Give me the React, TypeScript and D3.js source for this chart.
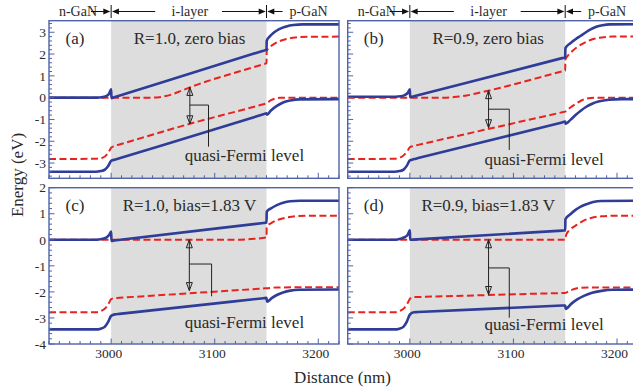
import React from 'react';
import * as d3 from 'd3';

type Pt = [number, number];

// ---------- axes / labels ----------
const xDomain: [number, number] = [2940, 3220];
const yDomainTop: [number, number] = [-3.7, 3.53];
const yDomainBottom: [number, number] = [-4, 2];
const xTickLabels = [3000, 3100, 3200];
const iLayer: [number, number] = [3000, 3150];
const panelLetters = ['(a)', '(b)', '(c)', '(d)'];
const panelTitles = ['R=1.0, zero bias', 'R=0.9, zero bias', 'R=1.0, bias=1.83 V', 'R=0.9, bias=1.83 V'];
const regionNames = ['n-GaN', 'i-layer', 'p-GaN'];
const regionCenters = [2968, 3076, 3190.5];
const annotationText = 'quasi-Fermi level';

// ---------- panel (a) R=1.0 zero bias ----------
const ecA: Pt[] = [[2940,0],[2986,0],[2991,0.02],[2995,0.07],[2998,0.18],[3000,0.38],[3000.3,-0.02],[3003,0.02],[3147,2.155],[3150,2.2],[3150.2,2.6],[3153,2.8],[3156,2.94],[3160,3.08],[3165,3.2],[3170,3.28],[3176,3.33],[3185,3.36],[3220,3.36]];
const efnA: Pt[] = [[2940,0],[3040,0],[3050,0.05],[3060,0.17],[3068,0.32],[3076,0.47],[3147,1.535],[3150,1.58],[3150.2,2.15],[3154,2.35],[3158,2.48],[3163,2.6],[3170,2.7],[3178,2.76],[3190,2.79],[3220,2.8]];
const efpA: Pt[] = [[2940,-2.82],[2986,-2.8],[2992,-2.75],[2996,-2.6],[2998.5,-2.42],[3000,-2.3],[3003,-2.22],[3008,-2.15],[3076,-1.2],[3147,-0.3],[3150,-0.26],[3154,-0.13],[3158,-0.05],[3163,-0.01],[3170,0],[3220,0]];
const evA: Pt[] = [[2940,-3.4],[2985,-3.4],[2990,-3.37],[2994,-3.3],[2997,-3.15],[3000,-2.9],[3004,-2.84],[3008,-2.782],[3147,-0.764],[3150,-0.72],[3150.5,-0.78],[3154,-0.6],[3160,-0.38],[3166,-0.22],[3173,-0.13],[3182,-0.08],[3220,-0.07]];

// ---------- panel (b) R=0.9 zero bias ----------
const ecB: Pt[] = [[2940,0.04],[2986,0.04],[2991,0.06],[2995,0.12],[2998,0.22],[3000,0.38],[3000.3,0.02],[3003,0.053],[3147,1.813],[3150,1.85],[3150.2,2.27],[3155,2.5],[3160,2.68],[3165,2.84],[3170,3.0],[3175,3.14],[3180,3.25],[3186,3.32],[3193,3.36],[3220,3.37]];
const efnB: Pt[] = [[2940,0],[3035,0],[3045,0.04],[3055,0.1],[3065,0.2],[3076,0.32],[3147,1.203],[3150,1.24],[3150.2,1.75],[3153,1.95],[3157,2.14],[3161,2.3],[3167,2.48],[3172,2.6],[3177,2.69],[3185,2.76],[3195,2.8],[3220,2.8]];
const efpB: Pt[] = [[2940,-2.82],[2985,-2.8],[2991,-2.74],[2995,-2.6],[2998,-2.42],[3000,-2.28],[3003,-2.22],[3008,-2.166],[3147,-0.672],[3150,-0.64],[3155,-0.45],[3161,-0.26],[3166,-0.12],[3171,-0.04],[3178,0],[3220,0]];
const evB: Pt[] = [[2940,-3.4],[2985,-3.4],[2990,-3.37],[2994,-3.3],[2997,-3.13],[3000,-2.88],[3004,-2.82],[3008,-2.773],[3147,-1.135],[3150,-1.1],[3150.5,-1.2],[3155,-1.02],[3160,-0.8],[3165,-0.6],[3170,-0.43],[3176,-0.28],[3183,-0.17],[3192,-0.1],[3205,-0.07],[3220,-0.07]];

// ---------- panel (c) R=1.0 bias 1.83 V ----------
const ecC: Pt[] = [[2940,0],[2986,0],[2991,0.03],[2995,0.08],[2998,0.18],[3000,0.32],[3000.3,-0.04],[3003,-0.027],[3147,0.646],[3150,0.66],[3150.2,1.08],[3155,1.22],[3160,1.33],[3166,1.42],[3173,1.48],[3182,1.5],[3220,1.5]];
const efnC: Pt[] = [[2940,0],[3120,0],[3135,0.03],[3150,0.09],[3150.2,0.5],[3155,0.65],[3162,0.78],[3170,0.86],[3180,0.91],[3192,0.92],[3220,0.92]];
const efpC: Pt[] = [[2940,-2.78],[2985,-2.78],[2991,-2.72],[2995,-2.6],[2998,-2.42],[3000,-2.28],[3003,-2.24],[3008,-2.227],[3147,-1.868],[3150,-1.86],[3160,-1.83],[3220,-1.82]];
const evC: Pt[] = [[2940,-3.44],[2985,-3.44],[2990,-3.41],[2994,-3.33],[2997,-3.16],[3000,-2.92],[3004,-2.86],[3008,-2.843],[3147,-2.243],[3150,-2.23],[3150.5,-2.38],[3155,-2.24],[3160,-2.12],[3166,-2.02],[3173,-1.95],[3182,-1.92],[3220,-1.91]];

// ---------- panel (d) R=0.9 bias 1.83 V ----------
const ecD: Pt[] = [[2940,0],[2986,0],[2991,0.04],[2995,0.1],[2998,0.2],[3000,0.36],[3000.3,0],[3003,0.006],[3147,0.353],[3150,0.36],[3150.2,0.79],[3155,0.98],[3160,1.15],[3165,1.27],[3171,1.37],[3177,1.45],[3185,1.49],[3220,1.5]];
const efnD: Pt[] = [[2940,0],[3148,0],[3150,0],[3151,0.2],[3155,0.4],[3161,0.57],[3167,0.72],[3175,0.84],[3185,0.9],[3195,0.92],[3220,0.92]];
const efpD: Pt[] = [[2940,-2.78],[2985,-2.78],[2991,-2.72],[2995,-2.6],[2998,-2.42],[3000,-2.27],[3003,-2.2],[3008,-2.195],[3147,-2.043],[3150,-2.04],[3154,-1.96],[3158,-1.9],[3163,-1.85],[3172,-1.83],[3220,-1.83]];
const evD: Pt[] = [[2940,-3.44],[2985,-3.44],[2990,-3.41],[2994,-3.33],[2997,-3.15],[3000,-2.87],[3004,-2.78],[3008,-2.773],[3147,-2.525],[3150,-2.52],[3150.5,-2.65],[3156,-2.45],[3162,-2.28],[3168,-2.15],[3176,-2.03],[3185,-1.96],[3196,-1.92],[3220,-1.91]];

// annotation: [arrowX, arrowTop, arrowBottom, elbowY, elbowX, stemBottom, textX, textBaseline]
const annA = [3076, 0.47, -1.2, -0.34, 3094, -2.25, 3071, -2.89];
const annB = [3076, 0.32, -1.38, -0.53, 3096, -2.4, 3072, -3.09];
const annC = [3075.5, 0, -1.95, -0.93, 3097, -2.17, 3071, -3.37];
const annD = [3076, 0, -2.1, -1.08, 3096, -2.99, 3072, -3.47];

const BLUE = '#2f3d99';
const RED = '#e8231f';
const FRAME = '#5062aa';
const SHADE = '#dcdddc';
const TEXT = '#2a2a2a';
const FONT = 'Liberation Serif, Times New Roman, Times, DejaVu Serif, serif';

const W = 633;
const H = 391;
const PW = 290;
const colLeft = [49, 347.7];
const rowTop = [20.7, 187.7];
const rowBottom = [178.3, 344];

interface PanelProps {
  idx: number;
  left: number;
  top: number;
  bottom: number;
  yDomain: [number, number];
  ec: Pt[]; efn: Pt[]; efp: Pt[]; ev: Pt[];
  ann: number[];
  showY: boolean;
  showX: boolean;
  header: boolean;
}

function Panel(p: PanelProps) {
  const x = d3.scaleLinear().domain(xDomain).range([p.left, p.left + PW]);
  const y = d3.scaleLinear().domain(p.yDomain).range([p.bottom, p.top]);
  const line = d3.line<Pt>().x(d => x(d[0])).y(d => y(d[1])).curve(d3.curveMonotoneX);
  const clipId = `clip-${p.idx}`;
  const xMinor = d3.range(xDomain[0], xDomain[1] + 0.1, 10);
  const yMinor = d3.range(Math.ceil(p.yDomain[0] / 0.2 - 1e-9), Math.floor(p.yDomain[1] / 0.2 + 1e-9) + 1).map(k => k * 0.2);
  const isMajor = (v: number, step: number) => Math.abs(v / step - Math.round(v / step)) < 1e-6;
  const yLabels = d3.range(Math.ceil(p.yDomain[0]), Math.floor(p.yDomain[1]) + 1);
  const [ax, at, ab, ey, ex, sb, tx, ty] = p.ann;
  const axp = x(ax);
  const topY = y(at), botY = y(ab);
  const ah = 8, aw = 3;
  const hy = 11.5;
  const textStyle = { fontFamily: FONT };

  const arrowHead = (xt: number, dir: number) => {
    const xb = xt - dir * 7;
    return `M${xt},${hy}L${xb},${hy - 3}L${xb},${hy + 3}Z`;
  };

  return (
    <g>
      <defs>
        <clipPath id={clipId}>
          <rect x={p.left} y={p.top} width={PW} height={p.bottom - p.top} />
        </clipPath>
      </defs>
      <rect x={x(iLayer[0])} y={p.top} width={x(iLayer[1]) - x(iLayer[0])} height={p.bottom - p.top} fill={SHADE} />
      <g clipPath={`url(#${clipId})`} fill="none">
        <path d={line(p.efn) || ''} stroke={RED} strokeWidth={2} strokeDasharray="7,3.5" />
        <path d={line(p.efp) || ''} stroke={RED} strokeWidth={2} strokeDasharray="7,3.5" />
        <path d={line(p.ec) || ''} stroke={BLUE} strokeWidth={2.6} strokeLinejoin="round" />
        <path d={line(p.ev) || ''} stroke={BLUE} strokeWidth={2.6} strokeLinejoin="round" />
      </g>
      <g stroke="#222" strokeWidth={1} fill="none">
        <line x1={axp} x2={axp} y1={topY} y2={botY} />
        <path d={`M${axp - aw},${topY + ah}L${axp},${topY}L${axp + aw},${topY + ah}Z`} />
        <path d={`M${axp - aw},${botY - ah}L${axp},${botY}L${axp + aw},${botY - ah}Z`} />
        <polyline points={`${axp},${y(ey)} ${x(ex)},${y(ey)} ${x(ex)},${y(sb)}`} />
      </g>
      <text x={x(tx)} y={y(ty)} fontSize={17} style={textStyle} fill={TEXT}>{annotationText}</text>
      <text x={p.left + 26} y={p.top + 23.5} fontSize={17} style={textStyle} fill={TEXT} textAnchor="middle">{panelLetters[p.idx]}</text>
      <text x={p.left + 140.5} y={p.top + 23.5} fontSize={17} style={textStyle} fill={TEXT} textAnchor="middle">{panelTitles[p.idx]}</text>
      <rect x={p.left} y={p.top} width={PW} height={p.bottom - p.top} fill="none" stroke={FRAME} strokeWidth={1.4} />
      <g stroke={FRAME} strokeWidth={1}>
        {xMinor.map(v => {
          const len = isMajor(v, 100) ? 5.5 : 3;
          return <line key={`x${v}`} x1={x(v)} x2={x(v)} y1={p.bottom} y2={p.bottom - len} />;
        })}
        {yMinor.map(v => {
          const len = isMajor(v, 1) ? 5.5 : 3;
          return <line key={`y${v}`} x1={p.left} x2={p.left + len} y1={y(v)} y2={y(v)} />;
        })}
      </g>
      {p.showY && yLabels.map(v => (
        <text key={`yl${v}`} x={p.left - 3} y={y(v)} dy="0.35em" textAnchor="end" fontSize={13.5} style={textStyle} fill={TEXT}>{String(v)}</text>
      ))}
      {p.showX && xTickLabels.map(v => (
        <text key={`xl${v}`} x={x(v) - 2.5} y={358} textAnchor="middle" fontSize={13.5} style={textStyle} fill={TEXT}>{String(v)}</text>
      ))}
      {p.header && (
        <g>
          {regionNames.map((n, i) => (
            <text key={n} x={x(regionCenters[i])} y={hy} dy="0.35em" textAnchor="middle" fontSize={14} style={textStyle} fill={TEXT}>{n}</text>
          ))}
          <g stroke="#111" strokeWidth={1}>
            <line x1={x(iLayer[0])} x2={x(iLayer[0])} y1={5} y2={18} />
            <line x1={x(iLayer[1])} x2={x(iLayer[1])} y1={5} y2={18} />
            <line x1={x(2980.5)} x2={x(iLayer[0]) - 5} y1={hy} y2={hy} />
            <line x1={x(iLayer[0]) + 5} x2={x(3042.5)} y1={hy} y2={hy} />
            <line x1={x(3107)} x2={x(iLayer[1]) - 5} y1={hy} y2={hy} />
            <line x1={x(iLayer[1]) + 5} x2={x(3165.5)} y1={hy} y2={hy} />
          </g>
          <g fill="#111">
            <path d={arrowHead(x(iLayer[0]) - 0.8, 1)} />
            <path d={arrowHead(x(iLayer[0]) + 0.8, -1)} />
            <path d={arrowHead(x(iLayer[1]) - 0.8, 1)} />
            <path d={arrowHead(x(iLayer[1]) + 0.8, -1)} />
          </g>
        </g>
      )}
    </g>
  );
}

export default function App() {
  const panels = [
    { ec: ecA, efn: efnA, efp: efpA, ev: evA, ann: annA },
    { ec: ecB, efn: efnB, efp: efpB, ev: evB, ann: annB },
    { ec: ecC, efn: efnC, efp: efpC, ev: evC, ann: annC },
    { ec: ecD, efn: efnD, efp: efpD, ev: evD, ann: annD },
  ];
  return (
    <svg width={W} height={H} style={{ position: 'absolute', left: 0, top: 0, background: '#fff' }}>
      <rect x={0} y={0} width={W} height={H} fill="#fff" />
      {panels.map((pd, i) => {
        const row = Math.floor(i / 2);
        const col = i % 2;
        return (
          <Panel
            key={i}
            idx={i}
            left={colLeft[col]}
            top={rowTop[row]}
            bottom={rowBottom[row]}
            yDomain={row === 0 ? yDomainTop : yDomainBottom}
            {...pd}
            showY={col === 0}
            showX={row === 1}
            header={row === 0}
          />
        );
      })}
      <text transform={`translate(17,175) rotate(-90)`} textAnchor="middle" dy="0.35em" fontSize={17} style={{ fontFamily: FONT }} fill={TEXT}>Energy (eV)</text>
      <text x={342.5} y={383} textAnchor="middle" fontSize={17} style={{ fontFamily: FONT }} fill={TEXT}>Distance (nm)</text>
    </svg>
  );
}
